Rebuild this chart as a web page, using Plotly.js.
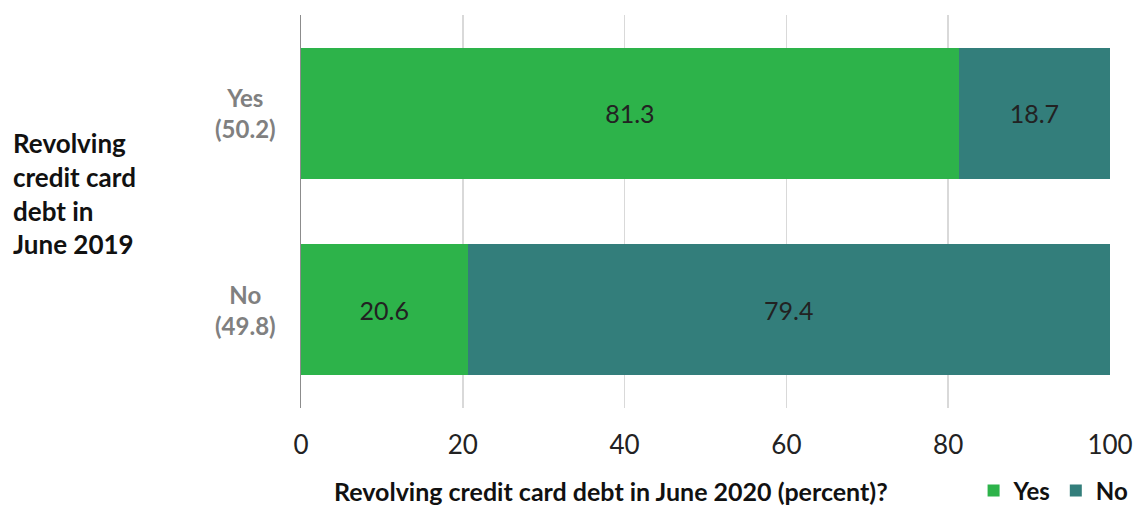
<!DOCTYPE html>
<html><head><meta charset="utf-8">
<script src="https://cdn.plot.ly/plotly-3.0.1.min.js"></script>
<style>body{margin:0;background:#fff}#c{width:1137px;height:506px}</style>
</head><body><div id="c"></div>
<script>
const categories = ["Yes<br>(50.2)", "No<br>(49.8)"];
const yesValues = [81.3, 20.6];
const noValues = [18.7, 79.4];
const xTicks = [0, 20, 40, 60, 80, 100];

const font = "Lato, 'Open Sans', sans-serif";
const traces = [
  {type:"bar", orientation:"h", name:"Yes", y:categories, x:yesValues,
   marker:{color:"#2DB34A"}, text:yesValues.map(v=>v.toFixed(1)), textposition:"inside",
   insidetextanchor:"middle", textfont:{color:"#222", size:25, family:font}, hoverinfo:"x"},
  {type:"bar", orientation:"h", name:"No", y:categories, x:noValues,
   marker:{color:"#337E7B"}, text:noValues.map(v=>v.toFixed(1)), textposition:"inside",
   insidetextanchor:"middle", textfont:{color:"#222", size:25, family:font}, hoverinfo:"x"}
];
const catLabels = categories.map(c => ({
  xref:"paper", yref:"y", x:-0.029, xanchor:"right", y:c, yanchor:"middle",
  align:"center", showarrow:false, text:"<b>"+c+"</b>", font:{size:24, color:"#808080"}
}));
const layout = {
  width:1137, height:506,
  margin:{l:301, r:27, t:15, b:98},
  barmode:"stack", bargap:0.333,
  paper_bgcolor:"#fff", plot_bgcolor:"#fff",
  font:{family:font, color:"#222"},
  xaxis:{range:[0,100], tickvals:xTicks, showgrid:true, gridcolor:"#D9D9D9", gridwidth:1.5,
         zeroline:false, showline:false, tickfont:{size:26, color:"#222"}, ticks:"",
         ticklabelstandoff:19, automargin:false},
  yaxis:{autorange:"reversed", showline:true, linecolor:"#8C8C8C", linewidth:1.5, ticks:"",
         showticklabels:false, automargin:false},
  showlegend:true,
  legend:{orientation:"h", xref:"container", x:0.997, xanchor:"right", yref:"container", y:0.03, yanchor:"middle",
          font:{size:24, color:"#111", weight:"bold"}, traceorder:"normal", itemwidth:30},
  annotations:[
   {xref:"paper", yref:"paper", x:-0.358, xanchor:"left", y:0.545, yanchor:"middle",
    align:"left", showarrow:false,
    text:"<b>Revolving<br>credit card<br>debt in<br>June 2019</b>", font:{size:26, color:"#111"}},
   {xref:"paper", yref:"paper", x:0.383, xanchor:"center", y:-0.21, yanchor:"middle",
    showarrow:false, text:"<b>Revolving credit card debt in June 2020 (percent)?</b>",
    font:{size:25, color:"#111"}}
  ].concat(catLabels)
};
Plotly.newPlot("c", traces, layout, {displayModeBar:false, staticPlot:true});
</script></body></html>
